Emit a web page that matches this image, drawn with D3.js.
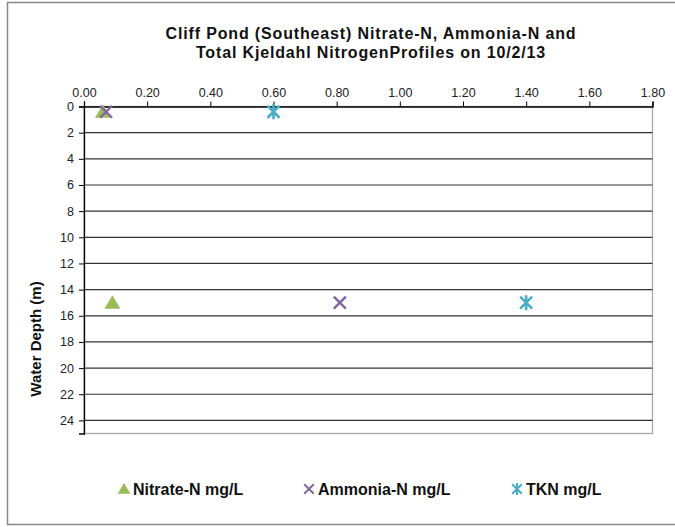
<!DOCTYPE html>
<html>
<head>
<meta charset="utf-8">
<script src="https://cdn.jsdelivr.net/npm/d3@7"></script>
<style>
  body { margin: 0; background: #fff; }
  svg { display: block; font-family: "Liberation Sans", Arial, sans-serif; }
</style>
</head>
<body>
<script>
const depths = [0.4, 15]
const nitrate = [0.06, 0.09]
const ammonia = [0.07, 0.81]
const tkn = [0.60, 1.40]
const xTicks = [0, 0.2, 0.4, 0.6, 0.8, 1.0, 1.2, 1.4, 1.6, 1.8]
const yTicks = [0, 2, 4, 6, 8, 10, 12, 14, 16, 18, 20, 22, 24]
const seriesNames = ['Nitrate-N mg/L', 'Ammonia-N mg/L', 'TKN mg/L']
const seriesColors = ['#9BBB59', '#8064A2', '#4BACC6']

const w = 675
const h = 527

const svg = d3.select('body').append('svg')
    .attr('width', w)
    .attr('height', h)

// outer chart frame
svg.append('rect')
    .attr('x', 7.5).attr('y', 2.5)
    .attr('width', 700).attr('height', 522)
    .attr('fill', 'none')
    .attr('stroke', '#888')
    .attr('stroke-width', 1.5)

const titleLines = ['Cliff Pond (Southeast) Nitrate-N, Ammonia-N and', 'Total Kjeldahl NitrogenProfiles on 10/2/13']
svg.append('g').selectAll('text')
    .data(titleLines)
    .enter()
    .append('text')
        .attr('x', 371).attr('y', (d, i) => 39 + i * 18.5)
        .attr('text-anchor', 'middle')
        .attr('font-size', 16).attr('font-weight', 'bold')
        .attr('letter-spacing', '0.85px')
        .attr('fill', '#111')
        .text(d => d)

const x = d3.scaleLinear().domain([0, 1.8]).range([84, 652.5])
const y = d3.scaleLinear().domain([0, 25]).range([106.5, 433.5])

// plot border (gray right & bottom)
svg.append('rect')
    .attr('x', x(0)).attr('y', y(0))
    .attr('width', x(1.8) - x(0)).attr('height', y(25) - y(0))
    .attr('fill', 'none')
    .attr('stroke', '#aaa')
    .attr('stroke-width', 1.3)

// horizontal gridlines
svg.append('g').selectAll('line')
    .data(yTicks.filter(d => d > 0))
    .enter()
    .append('line')
        .attr('x1', x(0)).attr('x2', x(1.8))
        .attr('y1', d => y(d)).attr('y2', d => y(d))
        .attr('stroke', '#333')
        .attr('stroke-width', 1.2)

const xAxis = svg.append('g')
    .attr('transform', `translate(0,${y(0)})`)
    .call(d3.axisTop(x).tickValues(xTicks).tickFormat(d3.format('.2f')).tickSizeOuter(0).tickSize(5))
const yAxis = svg.append('g')
    .attr('transform', `translate(${x(0)},0)`)
    .call(d3.axisLeft(y).tickValues(yTicks).tickSizeOuter(0).tickSize(5))

;[xAxis, yAxis].forEach(g => {
    g.select('.domain').attr('stroke', '#000').attr('stroke-width', 1.3)
    g.selectAll('.tick line').attr('stroke', '#000')
    g.selectAll('text').attr('font-size', 12.5).attr('fill', '#222')
        .attr('font-family', '"Liberation Sans", Arial, sans-serif')
})
xAxis.selectAll('text').attr('dy', '-0.1em')
yAxis.selectAll('text').attr('dx', '-2px')

svg.append('text')
    .attr('transform', 'translate(41,339) rotate(-90)')
    .attr('text-anchor', 'middle')
    .attr('font-size', 15).attr('font-weight', 'bold')
    .attr('fill', '#111')
    .text('Water Depth (m)')

// marker shapes
const triangle = (g, cx, cy, color) => g.append('path')
    .attr('d', `M${cx},${cy - 7.5}L${cx + 8},${cy + 6}L${cx - 8},${cy + 6}Z`)
    .attr('fill', color)
const cross = (g, cx, cy, color) => g.append('path')
    .attr('d', `M${cx - 6},${cy - 6}L${cx + 6},${cy + 6}M${cx + 6},${cy - 6}L${cx - 6},${cy + 6}`)
    .attr('stroke', color).attr('stroke-width', 2.4).attr('fill', 'none')
const star = (g, cx, cy, color) => g.append('path')
    .attr('d', `M${cx - 6},${cy - 6}L${cx + 6},${cy + 6}M${cx + 6},${cy - 6}L${cx - 6},${cy + 6}M${cx},${cy - 7.5}L${cx},${cy + 7.5}`)
    .attr('stroke', color).attr('stroke-width', 2.6).attr('fill', 'none')
const markers = [triangle, cross, star]

const pts = svg.append('g')
;[nitrate, ammonia, tkn].forEach((vals, i) => {
    vals.forEach((v, j) => markers[i](pts, x(v), y(depths[j]), seriesColors[i]))
})

// legend
const legendX = [124, 309, 517]
const legend = svg.append('g')
seriesNames.forEach((name, i) => {
    const g = legend.append('g')
    markers[i](g, 0, 0, seriesColors[i])
    g.attr('transform', `translate(${legendX[i]},489) scale(0.8)`)
    legend.append('text')
        .attr('x', legendX[i] + 9).attr('y', 494.5)
        .attr('font-size', 16).attr('font-weight', 'bold')
        .attr('fill', '#111')
        .text(name)
})
</script>
</body>
</html>
